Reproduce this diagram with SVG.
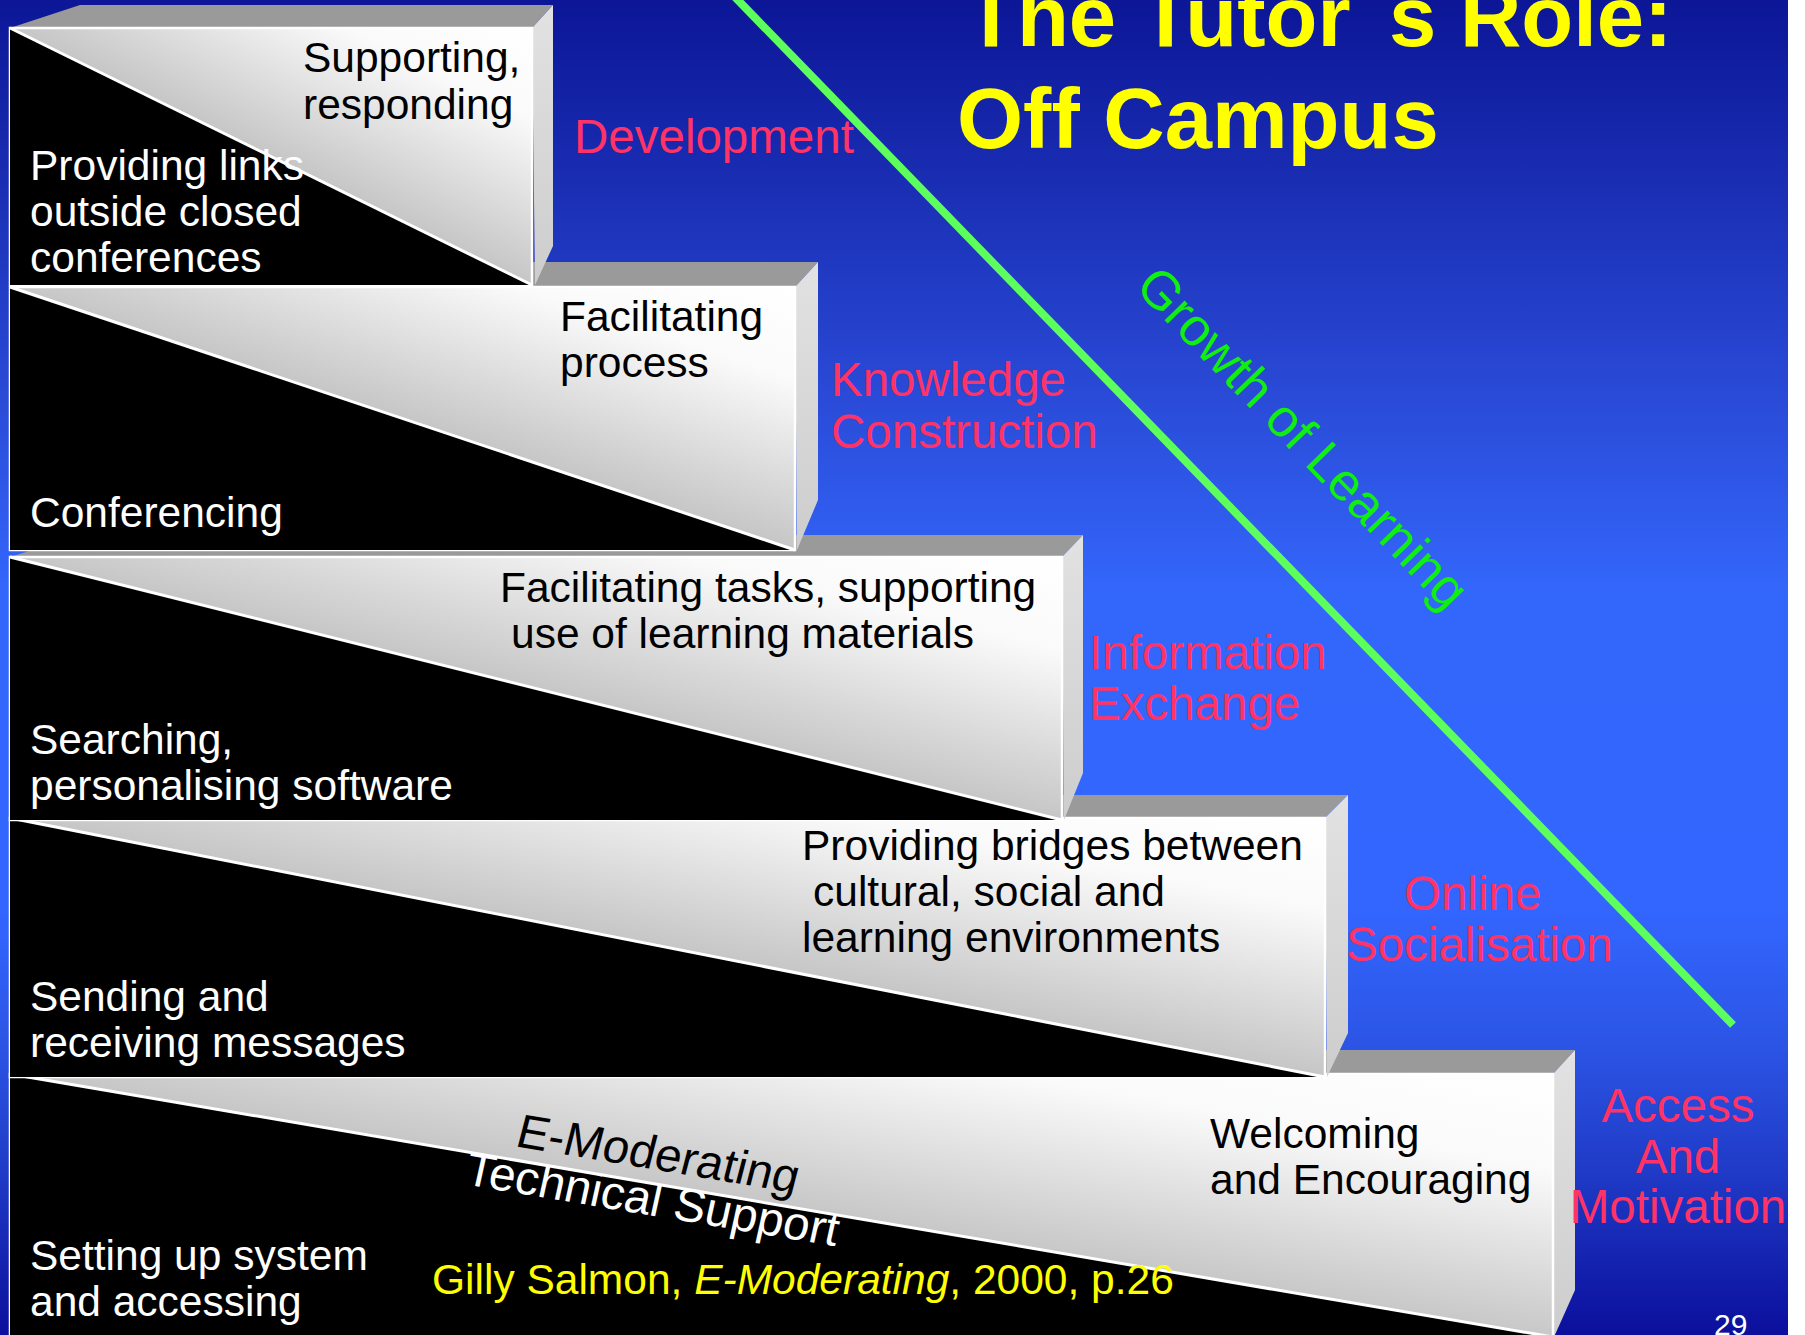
<svg xmlns="http://www.w3.org/2000/svg" width="1805" height="1335" viewBox="0 0 1805 1335">
  <defs>
    <linearGradient id="bg" x1="0" y1="0" x2="0" y2="1">
      <stop offset="0" stop-color="#0c1697"/>
      <stop offset="0.1" stop-color="#1627ab"/>
      <stop offset="0.3" stop-color="#2a4bd8"/>
      <stop offset="0.44" stop-color="#3366fa"/>
      <stop offset="0.68" stop-color="#3366ff"/>
      <stop offset="0.78" stop-color="#2c55e6"/>
      <stop offset="0.88" stop-color="#1f3ac6"/>
      <stop offset="1" stop-color="#0b0f9c"/>
    </linearGradient>
    <linearGradient id="faceLight" x1="1" y1="0" x2="0" y2="1">
      <stop offset="0" stop-color="#ffffff"/>
      <stop offset="0.18" stop-color="#fafafa"/>
      <stop offset="0.5" stop-color="#c6c6c6"/>
      <stop offset="1" stop-color="#a8a8a8"/>
    </linearGradient>
    <linearGradient id="sideFace" x1="0" y1="0" x2="0" y2="1">
      <stop offset="0" stop-color="#e2e2e2"/>
      <stop offset="1" stop-color="#cdcdcd"/>
    </linearGradient>
    <clipPath id="clipStep5Dark">
      <polygon points="10,1074 10,1337 1553,1337"/>
    </clipPath>
  </defs>
  <style>
    .top { fill: #9a9a9a; }
    .side { fill: url(#sideFace); }
    .front { fill: url(#faceLight); stroke: #ffffff; stroke-width: 2.5; }
    .dark { fill: #000000; }
    .edge { stroke: #ffffff; stroke-width: 3; fill: none; }
    .lbl { font-family: "Liberation Sans", Arial, sans-serif; font-size: 42.5px; }
    .blk { fill: #000000; }
    .wht { fill: #ffffff; }
    .stage { font-family: "Liberation Sans", Arial, sans-serif; font-size: 47.5px; fill: #ff3366; }
    .title { font-family: "Liberation Sans", Arial, sans-serif; font-size: 85px; font-weight: bold; fill: #ffff00; }
  </style>

  <!-- background -->
  <rect x="0" y="0" width="1805" height="1335" fill="url(#bg)"/>
  <rect x="1788" y="0" width="17" height="1335" fill="#ffffff"/>

  <!-- step 5: access and motivation -->
  <g id="step5">
    <polygon class="top" points="10,1074 80,1050 1575,1050 1553,1074"/>
    <polygon class="side" points="1553,1074 1575,1050 1575,1290 1554,1337"/>
    <rect class="front" x="10" y="1074" width="1543" height="270"/>
    <polygon class="dark" points="10,1074 10,1344 1553,1337"/>
    <line class="edge" x1="10" y1="1074" x2="1553" y2="1337"/>
    <text class="lbl blk" x="1210" y="1148">Welcoming</text>
    <text class="lbl blk" x="1210" y="1194">and Encouraging</text>
    <text class="lbl wht" x="30" y="1270">Setting up system</text>
    <text class="lbl wht" x="30" y="1316">and accessing</text>
    <text class="lbl blk" style="font-size:47.5px" transform="translate(514,1146) rotate(9.5) skewX(-5)">E-Moderating</text>
    <g clip-path="url(#clipStep5Dark)">
      <text class="lbl wht" style="font-size:47.5px" transform="translate(463,1184) rotate(9.5) skewX(-3)">Technical Support</text>
    </g>
  </g>

  <!-- step 4: online socialisation -->
  <g id="step4">
    <polygon class="top" points="10,818 80,795 1348,795 1325,818"/>
    <polygon class="side" points="1325,818 1348,795 1348,1033 1327,1077"/>
    <rect class="front" x="10" y="818" width="1315" height="259"/>
    <polygon class="dark" points="10,818 10,1077 1325,1077"/>
    <line class="edge" x1="10" y1="818" x2="1325" y2="1077"/>
    <text class="lbl blk" x="802" y="860">Providing bridges between</text>
    <text class="lbl blk" x="813" y="906">cultural, social and</text>
    <text class="lbl blk" x="802" y="952">learning environments</text>
    <text class="lbl wht" x="30" y="1011">Sending and</text>
    <text class="lbl wht" x="30" y="1057">receiving messages</text>
  </g>

  <!-- step 3: information exchange -->
  <g id="step3">
    <polygon class="top" points="10,557 80,535 1083,535 1062,557"/>
    <polygon class="side" points="1062,557 1083,535 1083,773 1064,820"/>
    <rect class="front" x="10" y="557" width="1052" height="263"/>
    <polygon class="dark" points="10,557 10,820 1062,820"/>
    <line class="edge" x1="10" y1="557" x2="1062" y2="820"/>
    <text class="lbl blk" x="500" y="602">Facilitating tasks, supporting</text>
    <text class="lbl blk" x="511" y="648">use of learning materials</text>
    <text class="lbl wht" x="30" y="754">Searching,</text>
    <text class="lbl wht" x="30" y="800">personalising software</text>
  </g>

  <!-- step 2: knowledge construction -->
  <g id="step2">
    <polygon class="top" points="10,287 80,262 818,262 795,287"/>
    <polygon class="side" points="795,287 818,262 818,500 797,550"/>
    <rect class="front" x="10" y="287" width="785" height="263"/>
    <polygon class="dark" points="10,287 10,550 795,550"/>
    <line class="edge" x1="10" y1="287" x2="795" y2="550"/>
    <text class="lbl blk" x="560" y="331">Facilitating</text>
    <text class="lbl blk" x="560" y="377">process</text>
    <text class="lbl wht" x="30" y="527">Conferencing</text>
  </g>

  <!-- step 1: development -->
  <g id="step1">
    <polygon class="top" points="10,28 80,5 553,5 532,28"/>
    <polygon class="side" points="532,28 553,5 553,246 535,285"/>
    <rect class="front" x="10" y="28" width="522" height="257"/>
    <polygon class="dark" points="10,28 10,285 532,285"/>
    <line class="edge" x1="10" y1="28" x2="532" y2="285"/>
    <text class="lbl blk" x="303" y="72">Supporting,</text>
    <text class="lbl blk" x="303" y="119">responding</text>
    <text class="lbl wht" x="30" y="180">Providing links</text>
    <text class="lbl wht" x="30" y="226">outside closed</text>
    <text class="lbl wht" x="30" y="272">conferences</text>
  </g>

  <!-- stage names beside each step -->
  <g id="stage-labels">
    <text class="stage" x="574" y="153">Development</text>
    <text class="stage" x="831" y="396">Knowledge</text>
    <text class="stage" x="831" y="448">Construction</text>
    <text class="stage" x="1089" y="669">Information</text>
    <text class="stage" x="1089" y="720">Exchange</text>
    <text class="stage" x="1404" y="910">Online</text>
    <text class="stage" x="1346" y="961">Socialisation</text>
    <text class="stage" x="1678" y="1122" text-anchor="middle">Access</text>
    <text class="stage" x="1678" y="1173" text-anchor="middle">And</text>
    <text class="stage" x="1678" y="1223" text-anchor="middle">Motivation</text>
  </g>

  <!-- growth line -->
  <g id="connectors">
    <line x1="733" y1="-5" x2="1733" y2="1025" stroke="#5cff5c" stroke-width="8"/>
  </g>
  <text id="growth-label" font-family="Liberation Sans, Arial, sans-serif" font-size="53" fill="#11ee11" text-anchor="middle" transform="translate(1290,450) rotate(46)">Growth of Learning</text>

  <!-- title -->
  <g id="title">
    <text class="title" y="46"><tspan x="965">The Tutor</tspan><tspan x="1389">s Role:</tspan></text>
    <text class="title" x="957" y="148">Off Campus</text>
  </g>

  <!-- citation and page number -->
  <text id="citation" font-family="Liberation Sans, Arial, sans-serif" font-size="42.5" fill="#ffff00" x="432" y="1294">Gilly Salmon, <tspan font-style="italic">E-Moderating</tspan>, 2000, p.26</text>
  <text id="page-number" font-family="Liberation Sans, Arial, sans-serif" font-size="30" fill="#ffffff" x="1714" y="1335">29</text>
</svg>
